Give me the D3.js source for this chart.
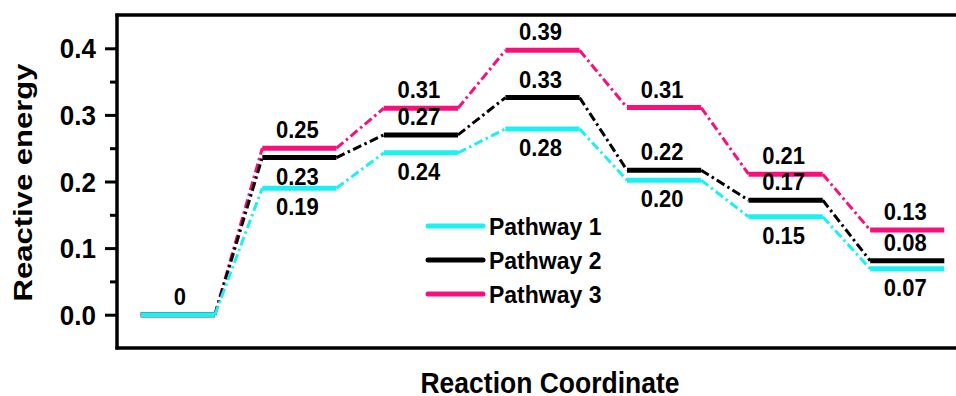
<!DOCTYPE html>
<html>
<head>
<meta charset="utf-8">
<script src="https://cdn.jsdelivr.net/npm/d3@7"></script>
<style>
  body { margin: 0; background: #fff; }
  svg { display: block; }
  text { font-family: "Liberation Sans", Arial, sans-serif; font-weight: bold; fill: #000; }
</style>
</head>
<body>
<svg width="956" height="396"></svg>
<script>
// reaction steps (level index) and energies
const steps = [0, 1, 2, 3, 4, 5, 6];
const pathway1 = [0, 0.19, 0.243, 0.279, 0.202, 0.147, 0.069];
const pathway2 = [0, 0.236, 0.27, 0.326, 0.217, 0.172, 0.081];
const pathway3 = [0, 0.25, 0.31, 0.397, 0.311, 0.211, 0.127];
const labels1 = ['0', '0.19', '0.24', '0.28', '0.20', '0.15', '0.07'];
const labels2 = ['', '0.23', '0.27', '0.33', '0.22', '0.17', '0.08'];
const labels3 = ['', '0.25', '0.31', '0.39', '0.31', '0.21', '0.13'];
const seriesNames = ['Pathway 1', 'Pathway 2', 'Pathway 3'];
const yTicks = [0, 0.1, 0.2, 0.3, 0.4];
const yMinorTicks = [0.05, 0.15, 0.25, 0.35];

const svg = d3.select('svg');

const colors = ['#1cf0f3', '#000000', '#f7107c'];

const xScale = d3.scaleLinear()
    .domain([-0.5, 6.5])
    .range([117, 968]);

const yScale = d3.scaleLinear()
    .domain([-0.05, 0.45])
    .range([348, 15]);

const halfW = 0.305; // half width of an energy level, in step units

// the original text is a bit taller than Liberation Sans, stretch it vertically
const tall = (x, y, k) => `translate(${x}, ${y}) scale(1, ${k})`;

// frame (left, top, bottom)
const frame = svg.append('g')
    .attr('stroke', '#000')
    .attr('stroke-width', 3.5)
    .attr('fill', 'none');
frame.append('line')
    .attr('x1', xScale(-0.5)).attr('x2', xScale(-0.5))
    .attr('y1', yScale(0.45) - 1.5).attr('y2', yScale(-0.05) + 1.5);
frame.append('line')
    .attr('x1', xScale(-0.5) - 1.5).attr('x2', 956)
    .attr('y1', yScale(0.45)).attr('y2', yScale(0.45));
frame.append('line')
    .attr('x1', xScale(-0.5) - 1.5).attr('x2', 956)
    .attr('y1', yScale(-0.05)).attr('y2', yScale(-0.05));

// y axis
const yAxis = d3.axisLeft(yScale)
    .tickValues(yTicks)
    .tickFormat(d3.format('.1f'))
    .tickSize(11)
    .tickPadding(9);

const yAxisG = svg.append('g')
    .attr('transform', `translate(${xScale(-0.5) - 1}, 0)`)
    .call(yAxis);
yAxisG.select('.domain').remove();
yAxisG.selectAll('.tick line').attr('stroke-width', 3);
yAxisG.selectAll('.tick text')
    .attr('font-size', 26)
    .attr('font-family', '"Liberation Sans", Arial, sans-serif')
    .attr('font-weight', 'bold')
    .attr('dy', null)
    .attr('y', null)
    .attr('x', null)
    .attr('transform', tall(-20, 9.5, 1.08));

const yMinor = d3.axisLeft(yScale)
    .tickValues(yMinorTicks)
    .tickFormat('')
    .tickSize(6);
const yMinorG = svg.append('g')
    .attr('transform', `translate(${xScale(-0.5) - 1}, 0)`)
    .call(yMinor);
yMinorG.select('.domain').remove();
yMinorG.selectAll('.tick line').attr('stroke-width', 3);

// axis titles
svg.append('text')
    .attr('transform', `translate(32, ${(yScale(0.45) + yScale(-0.05)) / 2 + 1}) rotate(-90)`)
    .attr('text-anchor', 'middle')
    .attr('font-size', 26.5)
    .attr('textLength', 238)
    .attr('lengthAdjust', 'spacingAndGlyphs')
    .text('Reactive energy');

svg.append('text')
    .attr('transform', tall(550, 393, 1.12))
    .attr('text-anchor', 'middle')
    .attr('font-size', 26.5)
    .text('Reaction Coordinate');

// energy diagram
const series = [
    {name: seriesNames[0], values: pathway1, labels: labels1, color: colors[0]},
    {name: seriesNames[1], values: pathway2, labels: labels2, color: colors[1]},
    {name: seriesNames[2], values: pathway3, labels: labels3, color: colors[2]}
];

// label placement: true = above the level, false = below
const placeAbove = [
    steps.map(i => i === 0),
    steps.map(i => i !== 1),
    steps.map(() => true)
];

const plot = svg.append('g');

// draw pathway 3 first so pathway 1 sits on top
[2, 1, 0].forEach(k => {
    const s = series[k];
    const g = plot.append('g');

    const connectors = d3.pairs(steps);
    g.selectAll('line.conn')
        .data(connectors)
        .enter().append('line')
        .attr('class', 'conn')
        .attr('x1', d => xScale(d[0] + halfW))
        .attr('y1', d => yScale(s.values[d[0]]))
        .attr('x2', d => xScale(d[1] - halfW))
        .attr('y2', d => yScale(s.values[d[1]]))
        .attr('stroke', s.color)
        .attr('stroke-width', 3)
        .attr('stroke-dasharray', '9,3.5,2.5,3.5');

    g.selectAll('line.level')
        .data(steps)
        .enter().append('line')
        .attr('class', 'level')
        .attr('x1', d => xScale(d - halfW))
        .attr('x2', d => xScale(d + halfW))
        .attr('y1', d => yScale(s.values[d]))
        .attr('y2', d => yScale(s.values[d]))
        .attr('stroke', s.color)
        .attr('stroke-width', 5);
});

// value labels
series.forEach((s, k) => {
    plot.append('g').selectAll('text')
        .data(steps.filter(i => s.labels[i] !== ''))
        .enter().append('text')
        .attr('transform', d => tall(xScale(d) - 2 + (d === 0 ? 4 : 0),
            yScale(s.values[d]) + (placeAbove[k][d] ? -10 : 27), 1.07))
        .attr('text-anchor', 'middle')
        .attr('font-size', 22)
        .text(d => s.labels[d]);
});

// legend
const legend = svg.append('g')
    .attr('transform', 'translate(428, 226)');
const legendItem = legend.selectAll('g')
    .data(series)
    .enter().append('g')
    .attr('transform', (d, i) => `translate(0, ${i * 34})`);
legendItem.append('line')
    .attr('x1', 0).attr('x2', 55)
    .attr('stroke', d => d.color)
    .attr('stroke-width', 5)
    .attr('stroke-linecap', 'round');
legendItem.append('text')
    .attr('transform', tall(61, 8.5, 1.08))
    .attr('font-size', 23)
    .text(d => d.name);
</script>
</body>
</html>
